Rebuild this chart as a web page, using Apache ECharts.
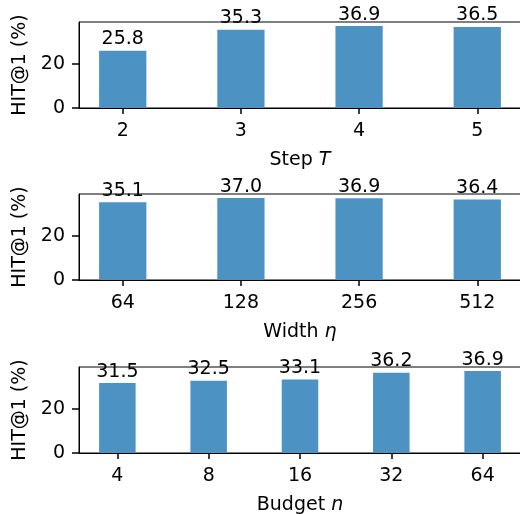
<!DOCTYPE html>
<html>
<head>
<meta charset="utf-8">
<script src="https://cdn.jsdelivr.net/npm/echarts@6/dist/echarts.min.js"></script>
<style>
html,body{margin:0;padding:0;background:#fff;}
#chart{width:520px;height:514px;}
</style>
</head>
<body>
<div id="chart"></div>
<script>
// Data
const stepCats = ['2', '3', '4', '5'];
const stepVals = [25.8, 35.3, 36.9, 36.5];
const widthCats = ['64', '128', '256', '512'];
const widthVals = [35.1, 37.0, 36.9, 36.4];
const budgetCats = ['4', '8', '16', '32', '64'];
const budgetVals = [31.5, 32.5, 33.1, 36.2, 36.9];
const yTicks = [0, 20];
const yLabel = 'HIT@1 (%)';
const xNames = ['Step {i|T}', 'Width {i|η}', 'Budget {i|n}'];

const FONT = 'DejaVu Sans';
const FS = 19;
const BAR_COLOR = '#4c92c3';
const panels = [
  {cats: stepCats, vals: stepVals, top: 22, height: 86},
  {cats: widthCats, vals: widthVals, top: 194, height: 86},
  {cats: budgetCats, vals: budgetVals, top: 367, height: 86}
];
const LEFT = 79, WIDTH = 442;

const grids = [], xAxes = [], yAxes = [], series = [];
panels.forEach((p, k) => {
  const n = p.cats.length;
  const span = (n - 1) + 0.4;
  const xmin = -0.2 - 0.05 * span;
  const xmax = (n - 1) + 0.2 + 0.05 * span;
  const unit = WIDTH / (xmax - xmin);
  const ymax = Math.max(...p.vals) * 1.05;
  const idx = p.cats.map((c, i) => i);
  grids.push({left: LEFT, top: p.top, width: WIDTH, height: p.height,
    outerBoundsMode: 'none', containLabel: false,
    show: true, borderColor: '#000', borderWidth: 1, backgroundColor: 'transparent'});
  xAxes.push({
    type: 'value', gridIndex: k, min: xmin, max: xmax,
    splitLine: {show: false},
    axisLine: {show: true, onZero: false, lineStyle: {color: '#000', width: 1}},
    axisTick: {show: true, inside: false, length: 6, customValues: idx, lineStyle: {color: '#000', width: 1.5}},
    axisLabel: {show: true, customValues: idx, color: '#000', fontFamily: FONT, fontSize: FS, margin: 14,
      formatter: v => p.cats[Math.round(v)]},
    name: xNames[k], nameLocation: 'middle', nameGap: 43,
    nameTextStyle: {color: '#000', fontFamily: FONT, fontSize: FS,
      rich: {i: {fontStyle: 'italic', fontFamily: FONT, fontSize: FS, color: '#000'}}}
  });
  yAxes.push({
    type: 'value', gridIndex: k, min: 0, max: ymax,
    splitLine: {show: false},
    axisLine: {show: true, onZero: false, lineStyle: {color: '#000', width: 1}},
    axisTick: {show: true, inside: false, length: 7, customValues: yTicks, lineStyle: {color: '#000', width: 1.5}},
    axisLabel: {show: true, customValues: yTicks, color: '#000', fontFamily: FONT, fontSize: FS, margin: 14},
    name: yLabel, nameLocation: 'middle', nameGap: 48, nameRotate: 90,
    nameTextStyle: {color: '#000', fontFamily: FONT, fontSize: FS}
  });
  series.push({
    type: 'bar', xAxisIndex: k, yAxisIndex: k,
    barWidth: 0.4 * unit,
    data: p.vals.map((v, i) => [i, v]),
    itemStyle: {color: BAR_COLOR},
    label: {show: true, position: 'top', distance: 2, color: '#000', fontFamily: FONT, fontSize: FS,
      formatter: d => d.value[1].toFixed(1)},
    animation: false
  });
});

const chart = echarts.init(document.getElementById('chart'), null, {renderer: 'canvas'});
chart.setOption({
  animation: false,
  backgroundColor: '#fff',
  grid: grids, xAxis: xAxes, yAxis: yAxes, series: series
});
</script>
</body>
</html>
